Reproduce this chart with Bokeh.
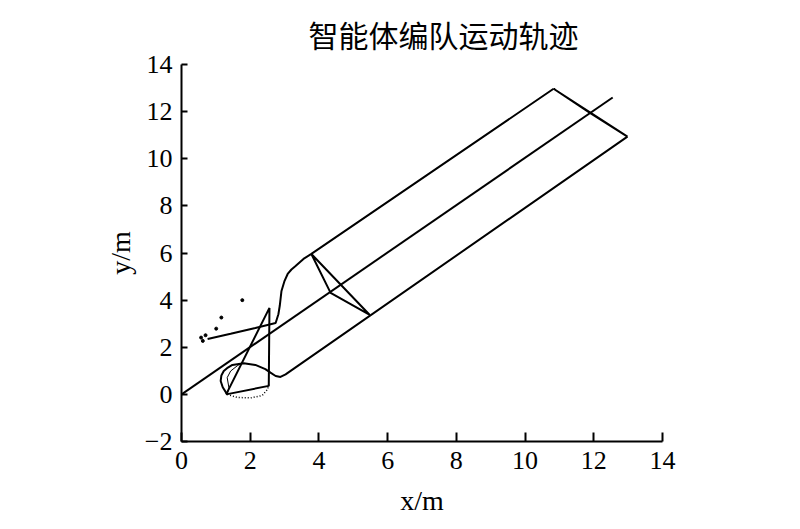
from bokeh.plotting import figure
from bokeh.models import Range1d, FixedTicker, Title
from bokeh.embed import file_html
from bokeh.resources import INLINE

# ---- data ----
leader_x = [0.0, 12.55]
leader_y = [0.0, 12.6]

upper_x = [0.76, 1.43, 2.15, 2.74, 2.82, 2.86, 2.91, 3.00, 3.09, 3.20, 3.32, 3.55, 3.78, 10.83]
upper_y = [2.35, 2.57, 2.82, 3.03, 3.40, 3.76, 4.39, 4.82, 5.11, 5.30, 5.45, 5.75, 5.96, 12.97]

lower_x = [1.33, 1.20, 1.14, 1.16, 1.23, 1.35, 1.48, 1.81, 2.15, 2.44, 2.59, 2.74, 2.88, 3.03, 12.98]
lower_y = [0.0, 0.30, 0.57, 0.80, 0.99, 1.14, 1.25, 1.32, 1.25, 1.07, 0.92, 0.78, 0.74, 0.85, 10.94]

inner_x = [1.33, 1.38, 1.33, 1.43, 1.62, 1.77]
inner_y = [0.0, 0.28, 0.71, 0.99, 1.21, 1.35]

dotted_x = [1.33, 1.62, 2.01, 2.35, 2.51, 2.54]
dotted_y = [0.0, -0.13, -0.15, -0.05, 0.22, 0.44]

scatter_x = [1.77, 1.16, 1.01, 0.57, 0.70, 0.62]
scatter_y = [4.0, 3.26, 2.79, 2.41, 2.51, 2.27]

tri_start_x = [1.30, 2.56, 2.54, 1.30]
tri_start_y = [0.0, 3.67, 0.36, 0.0]
tri_mid_x = [3.78, 4.34, 5.48, 3.78]
tri_mid_y = [5.96, 4.31, 3.37, 5.96]
tri_end_x = [10.83, 11.90, 12.98, 10.83]
tri_end_y = [12.97, 11.93, 10.94, 12.97]

x_ticks = [0, 2, 4, 6, 8, 10, 12, 14]
y_ticks = [-2, 0, 2, 4, 6, 8, 10, 12, 14]
title_text = "智能体编队运动轨迹"
x_label = "x/m"
y_label = "y/m"

SERIF = "Liberation Serif"

p = figure(width=792, height=521, output_backend="svg", toolbar_location=None,
           x_range=Range1d(0, 14), y_range=Range1d(-2, 14),
           min_border_left=181, min_border_right=130,
           min_border_top=64, min_border_bottom=80)
p.title = Title(text=title_text, text_font="Noto Sans CJK SC", text_font_size="30px",
                text_font_style="normal", align="left", offset=127, standoff=18,
                text_color="black")
p.outline_line_color = None
p.grid.visible = False
p.background_fill_color = "white"
p.border_fill_color = "white"

for ax, ticks in ((p.xaxis[0], x_ticks), (p.yaxis[0], y_ticks)):
    ax.ticker = FixedTicker(ticks=ticks)
    ax.axis_line_width = 2
    ax.axis_line_color = "black"
    ax.major_tick_line_width = 2
    ax.major_tick_line_color = "black"
    ax.major_tick_out = 0
    ax.minor_tick_line_color = None
    ax.major_label_text_font = SERIF
    ax.major_label_text_font_size = "26px"
    ax.major_label_text_color = "black"
    ax.axis_label_text_font = SERIF
    ax.axis_label_text_font_size = "28px"
    ax.axis_label_text_font_style = "normal"
    ax.axis_label_text_color = "black"

p.xaxis[0].major_tick_in = 9
p.xaxis[0].major_label_standoff = 10
p.xaxis[0].axis_label = x_label
p.xaxis[0].axis_label_standoff = 13
p.yaxis[0].major_tick_in = 6
p.yaxis[0].major_label_standoff = 9
p.yaxis[0].major_label_overrides = {-2: "\u22122"}
p.yaxis[0].axis_label = y_label
p.yaxis[0].axis_label_standoff = 6

lw = 2
p.line(leader_x, leader_y, line_color="black", line_width=lw)
p.line(upper_x, upper_y, line_color="black", line_width=lw)
p.line(lower_x, lower_y, line_color="black", line_width=lw)
p.line(inner_x, inner_y, line_color="black", line_width=1)
p.line(dotted_x, dotted_y, line_color="black", line_width=1.5, line_dash="1 2")
p.scatter(scatter_x, scatter_y, size=3, color="black")
for tx, ty in ((tri_start_x, tri_start_y), (tri_mid_x, tri_mid_y), (tri_end_x, tri_end_y)):
    p.line(tx, ty, line_color="black", line_width=lw)

open("out.html", "w").write(file_html(p, INLINE))
